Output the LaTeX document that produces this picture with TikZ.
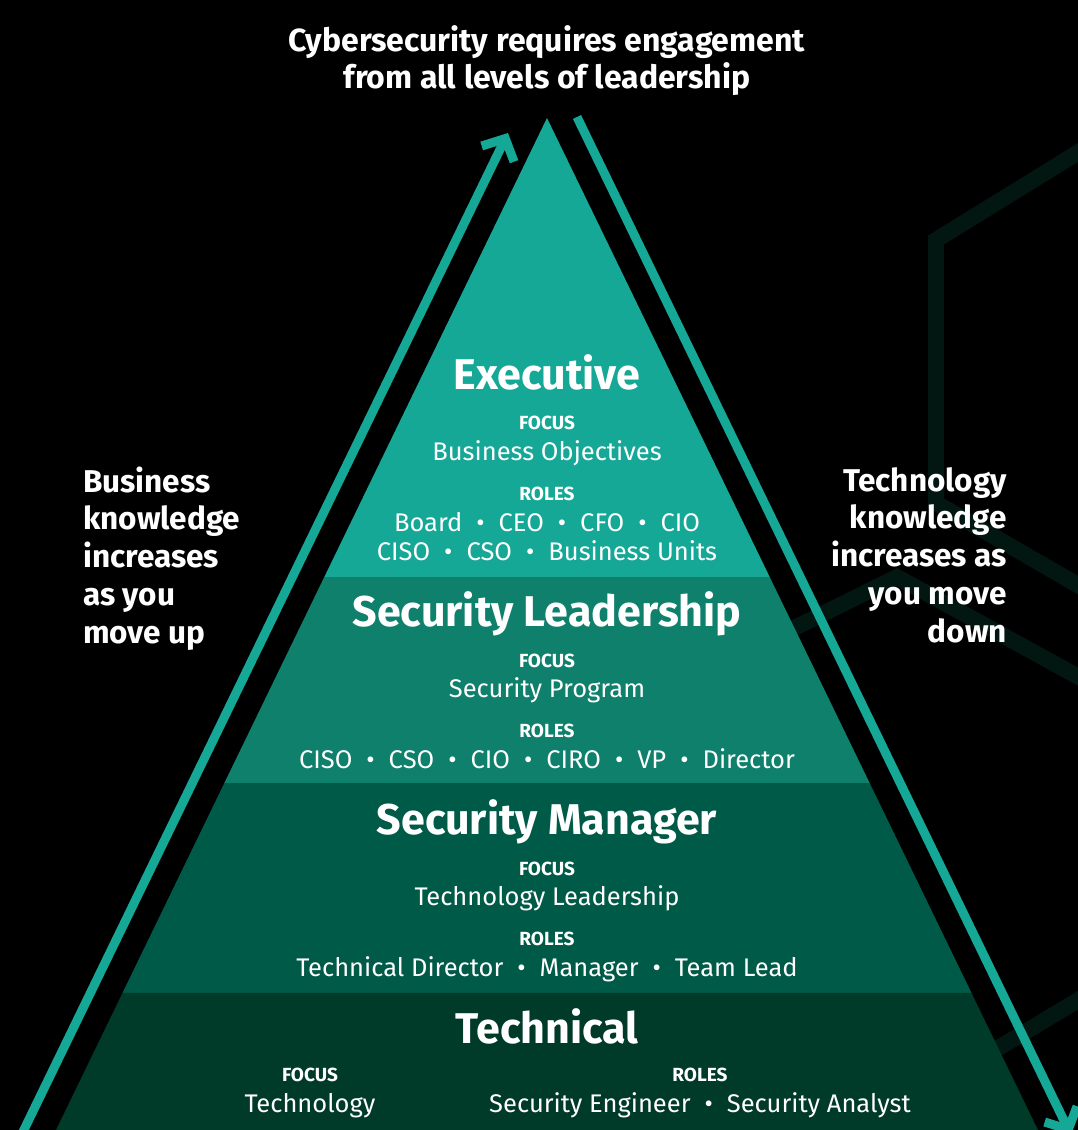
\documentclass[tikz,border=0pt]{standalone}
\usepackage{fontspec}
\setmainfont{Fira Sans}
\usepackage{tikz}
\usetikzlibrary{arrows.meta,calc}
\definecolor{tealtop}{RGB}{22,168,150}
\definecolor{tealmid}{RGB}{14,128,108}
\definecolor{greenmid}{RGB}{0,90,72}
\definecolor{greenlow}{RGB}{0,58,40}
\definecolor{hexgreen}{RGB}{3,23,18}
\newcommand{\dotsep}{\hspace{0.55em}\textbullet\hspace{0.55em}}
\tikzset{lbl/.style={text=white, inner sep=0pt, anchor=base}}
\tikzset{headline/.style={lbl, font=\bfseries\fontsize{32}{38}\selectfont}}
\tikzset{tiername/.style={lbl, font=\bfseries\fontsize{43}{50}\selectfont}}
\tikzset{tagline/.style={lbl, font=\bfseries\fontsize{19}{22}\selectfont}}
\tikzset{bodytext/.style={lbl, font=\fontsize{25.5}{30}\selectfont}}
\tikzset{sidenote/.style={lbl, font=\bfseries\fontsize{31.5}{38}\selectfont}}
\tikzset{knowarrow/.style={line width=9pt, draw=tealtop, -{Straight Barb[length=17pt,width=36pt]}}}
\tikzset{hexedge/.style={line width=16pt, draw=hexgreen}}

\begin{document}
\begin{tikzpicture}[x=1pt,y=-1pt]
\fill[black] (0,0) rectangle (1078,1130);
\useasboundingbox (0,0) rectangle (1078,1130);

% faint hexagons behind
\draw[hexedge] (1095,142) -- (936,240) -- (936,503) -- (1095,595);
\draw[hexedge] (760,645) -- (897,577) -- (1095,686);
\draw[hexedge] (960,1071) -- (1095,990);

% pyramid
\coordinate (apex) at (547,118);
\coordinate (baseL) at (56,1130);
\coordinate (baseR) at (1038,1130);
\coordinate (execL) at ($(apex)!0.4536!(baseL)$);
\coordinate (execR) at ($(apex)!0.4536!(baseR)$);
\coordinate (leadL) at ($(apex)!0.6571!(baseL)$);
\coordinate (leadR) at ($(apex)!0.6571!(baseR)$);
\coordinate (mgrL) at ($(apex)!0.8646!(baseL)$);
\coordinate (mgrR) at ($(apex)!0.8646!(baseR)$);
\fill[tealtop] (apex) -- (execR) -- (execL) -- cycle;
\fill[tealmid] (execL) -- (execR) -- (leadR) -- (leadL) -- cycle;
\fill[greenmid] (leadL) -- (leadR) -- (mgrR) -- (mgrL) -- cycle;
\fill[greenlow] (mgrL) -- (mgrR) -- (baseR) -- (baseL) -- cycle;

% arrows
\coordinate (upS) at (19,1140);
\coordinate (upE) at (508,133);
\coordinate (downS) at (577,117);
\coordinate (downE) at (1071,1135);
\draw[knowarrow] (upS) -- (upE);
\draw[knowarrow] (downS) -- (downE);

\node[headline] (head1) at (547,51) {Cybersecurity requires engagement};
\node[headline] (head2) at (547,88) {from all levels of leadership};

% Executive
\node[tiername] (exec) at (547,389) {Executive};
\node[tagline] (execfocus) at (547,429) {FOCUS};
\node[bodytext] (execfocustxt) at (547,460) {Business Objectives};
\node[tagline] (execroles) at (547,500) {ROLES};
\node[bodytext] (execrolesa) at (547,531) {Board\dotsep CEO\dotsep CFO\dotsep CIO};
\node[bodytext] (execrolesb) at (547,560) {CISO\dotsep CSO\dotsep Business Units};

% Security Leadership
\node[tiername] (lead) at (547,626) {Security Leadership};
\node[tagline] (leadfocus) at (547,667) {FOCUS};
\node[bodytext] (leadfocustxt) at (547,697) {Security Program};
\node[tagline] (leadroles) at (547,737) {ROLES};
\node[bodytext] (leadrolestxt) at (547,768) {CISO\dotsep CSO\dotsep CIO\dotsep CIRO\dotsep VP\dotsep Director};

% Security Manager
\node[tiername] (mgr) at (547,834) {Security Manager};
\node[tagline] (mgrfocus) at (547,875) {FOCUS};
\node[bodytext] (mgrfocustxt) at (547,905) {Technology Leadership};
\node[tagline] (mgrroles) at (547,945) {ROLES};
\node[bodytext] (mgrrolestxt) at (547,976) {Technical Director\dotsep Manager\dotsep Team Lead};

% Technical
\node[tiername] (tech) at (547,1043) {Technical};
\node[tagline] (techfocus) at (310,1081) {FOCUS};
\node[bodytext] (techfocustxt) at (310,1112) {Technology};
\node[tagline] (techroles) at (700,1081) {ROLES};
\node[bodytext] (techrolestxt) at (700,1112) {Security Engineer\dotsep Security Analyst};

% side notes
\foreach \txt [count=\i] in {Business, knowledge, increases, as you, move up}
  \node[sidenote, anchor=base west] (bus\i) at (83,454.25+37.75*\i) {\txt};
\foreach \txt [count=\i] in {Technology, knowledge, increases as, you move, down}
  \node[sidenote, anchor=base east] (tec\i) at (1007,453.25+37.75*\i) {\txt};
\end{tikzpicture}
\end{document}
